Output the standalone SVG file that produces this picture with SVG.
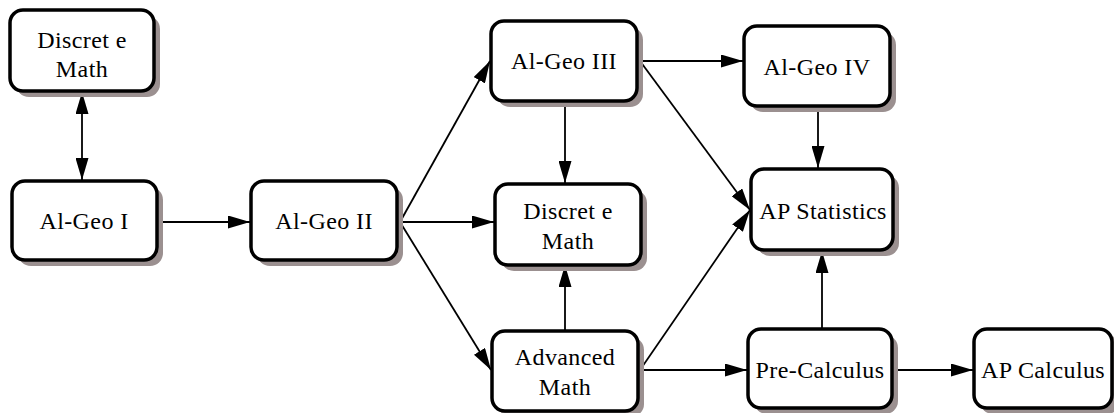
<svg xmlns="http://www.w3.org/2000/svg" width="1114" height="413" viewBox="0 0 1114 413">
<style>
.sh{fill:#9b9090;}
.bx{fill:#fff;stroke:#000;stroke-width:3.5;}
text{font-family:'Times New Roman',Times,'Liberation Serif',Tinos,'Nimbus Roman','Noto Serif',serif;font-size:24px;fill:#000;text-anchor:middle;letter-spacing:0.4px;}
.c line{stroke:#000;stroke-width:1.8;}
</style>
<defs>
<marker id="ah" viewBox="0 0 22 13" refX="22" refY="6.5" markerWidth="22" markerHeight="13" markerUnits="userSpaceOnUse" orient="auto-start-reverse">
<path d="M0,0 L22,6.5 L0,13 Z" fill="#000"/>
</marker>
</defs>
<rect width="1114" height="413" fill="#fff"/>
<g class="c">
<line x1="82" y1="92" x2="82" y2="180" marker-start="url(#ah)" marker-end="url(#ah)"/>
<line x1="158" y1="222" x2="250" y2="222" marker-end="url(#ah)"/>
<line x1="400" y1="222" x2="490" y2="61" marker-end="url(#ah)"/>
<line x1="400" y1="222" x2="494" y2="222" marker-end="url(#ah)"/>
<line x1="400" y1="222" x2="491" y2="370" marker-end="url(#ah)"/>
<line x1="565" y1="101" x2="565" y2="183" marker-end="url(#ah)"/>
<line x1="565" y1="330" x2="565" y2="265" marker-end="url(#ah)"/>
<line x1="640" y1="61" x2="743" y2="61" marker-end="url(#ah)"/>
<line x1="640" y1="61" x2="750" y2="210" marker-end="url(#ah)"/>
<line x1="640" y1="370" x2="750" y2="210" marker-end="url(#ah)"/>
<line x1="640" y1="370" x2="747" y2="370" marker-end="url(#ah)"/>
<line x1="818" y1="108" x2="818" y2="168" marker-end="url(#ah)"/>
<line x1="822" y1="328" x2="822" y2="251" marker-end="url(#ah)"/>
<line x1="893" y1="370" x2="973" y2="370" marker-end="url(#ah)"/>
</g>
<g id="discrete1">
<rect class="sh" x="16" y="16" width="144" height="81" rx="13"/>
<rect class="bx" x="10" y="10" width="144" height="81" rx="13"/>
<text x="82" y="48">Discret e</text>
<text x="82" y="77">Math</text>
</g>
<g id="algeo1">
<rect class="sh" x="18" y="187" width="145" height="79" rx="13"/>
<rect class="bx" x="12" y="181" width="145" height="79" rx="13"/>
<text x="84" y="229">Al-Geo I</text>
</g>
<g id="algeo2">
<rect class="sh" x="257" y="187" width="146" height="79" rx="13"/>
<rect class="bx" x="251" y="181" width="146" height="79" rx="13"/>
<text x="324" y="229">Al-Geo II</text>
</g>
<g id="algeo3">
<rect class="sh" x="497" y="27" width="146" height="80" rx="13"/>
<rect class="bx" x="491" y="21" width="146" height="80" rx="13"/>
<text x="564" y="69">Al-Geo III</text>
</g>
<g id="discrete2">
<rect class="sh" x="501" y="190" width="146" height="81" rx="13"/>
<rect class="bx" x="495" y="184" width="146" height="81" rx="13"/>
<text x="568" y="219">Discret e</text>
<text x="568" y="249">Math</text>
</g>
<g id="advanced">
<rect class="sh" x="498" y="337" width="146" height="80" rx="13"/>
<rect class="bx" x="492" y="331" width="146" height="80" rx="13"/>
<text x="565" y="365">Advanced</text>
<text x="565" y="395">Math</text>
</g>
<g id="algeo4">
<rect class="sh" x="750" y="32" width="146" height="80" rx="13"/>
<rect class="bx" x="744" y="26" width="146" height="80" rx="13"/>
<text x="817" y="75">Al-Geo IV</text>
</g>
<g id="apstat">
<rect class="sh" x="757" y="175" width="142" height="81" rx="13"/>
<rect class="bx" x="751" y="169" width="142" height="81" rx="13"/>
<text x="823" y="219">AP Statistics</text>
</g>
<g id="precalc">
<rect class="sh" x="754" y="335" width="144" height="79" rx="13"/>
<rect class="bx" x="748" y="329" width="144" height="79" rx="13"/>
<text x="820" y="378">Pre-Calculus</text>
</g>
<g id="apcalc">
<rect class="sh" x="980" y="335" width="140" height="79" rx="13"/>
<rect class="bx" x="974" y="329" width="138" height="79" rx="13"/>
<text x="1043" y="378">AP Calculus</text>
</g>
</svg>
